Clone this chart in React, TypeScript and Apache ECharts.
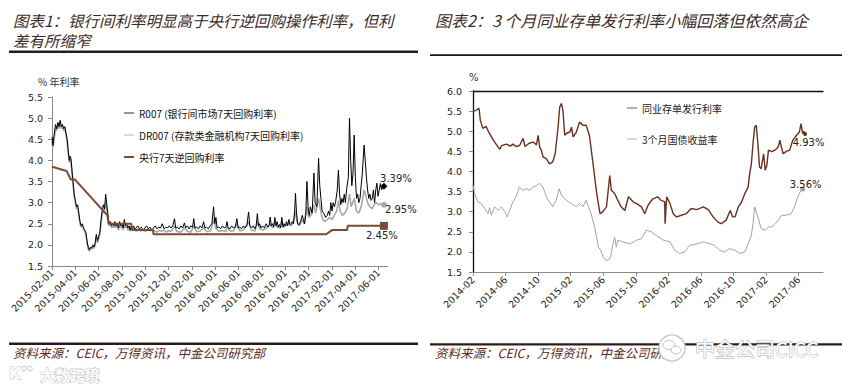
import React, { useEffect, useRef } from "react";
import * as echarts from "echarts";

// ---------------- Left chart (x = months since 2015-02-01) ----------------
const leftTickLabels = [
  "2015-02-01", "2015-04-01", "2015-06-01", "2015-08-01", "2015-10-01",
  "2015-12-01", "2016-02-01", "2016-04-01", "2016-06-01", "2016-08-01",
  "2016-10-01", "2016-12-01", "2017-02-01", "2017-04-01", "2017-06-01",
];
const leftNames = [
  "R007 (银行间市场7天回购利率)",
  "DR007 (存款类金融机构7天回购利率)",
  "央行7天逆回购利率",
];

const r007: [number, number][] = [
  [0, 4.55], [0.08, 4.35], [0.18, 4.6], [0.3, 4.85], [0.4, 4.75], [0.5, 4.9], [0.6, 4.8], [0.7, 4.95],
  [0.8, 4.8], [0.9, 4.85], [1.0, 4.75], [1.1, 4.8], [1.2, 4.65], [1.3, 4.5], [1.4, 4.2], [1.48, 4.0],
  [1.55, 4.1], [1.62, 4.05], [1.7, 3.8], [1.8, 3.5], [1.9, 3.2], [2.0, 3.05], [2.1, 2.9], [2.2, 2.95],
  [2.3, 2.75], [2.4, 2.55], [2.5, 2.45], [2.6, 2.5], [2.7, 2.4], [2.8, 2.35], [2.9, 2.3], [3.0, 2.1],
  [3.1, 1.95], [3.2, 1.88], [3.3, 1.95], [3.4, 1.92], [3.5, 2.0], [3.6, 1.95], [3.7, 2.05], [3.8, 2.25],
  [3.9, 2.1], [4.0, 2.2], [4.1, 2.3], [4.2, 2.6], [4.3, 2.8], [4.4, 2.95], [4.5, 2.85], [4.6, 3.2],
  [4.7, 2.95], [4.8, 2.7], [4.9, 2.5], [5.0, 2.55], [5.1, 2.45], [5.2, 2.5], [5.3, 2.45], [5.4, 2.55],
  [5.5, 2.45], [5.6, 2.5], [5.7, 2.4], [5.8, 2.55], [5.9, 2.45], [6.0, 2.5], [6.1, 2.4], [6.2, 2.6],
  [6.3, 2.45], [6.4, 2.5], [6.5, 2.4], [6.6, 2.45], [6.7, 2.35], [6.8, 2.45], [6.9, 2.4], [7.0, 2.45],
  [7.1, 2.35], [7.2, 2.4], [7.35, 2.45], [7.5, 2.38], [7.65, 2.42], [7.8, 2.35], [7.95, 2.4], [8.1, 2.45],
  [8.25, 2.38], [8.4, 2.42], [8.55, 2.35], [8.7, 2.4], [8.85, 2.45], [9.0, 2.38], [9.15, 2.42], [9.3, 2.4],
  [9.45, 2.5], [9.6, 2.38], [9.75, 2.42], [9.9, 2.4], [10.05, 2.45], [10.2, 2.4], [10.35, 2.45], [10.5, 2.62],
  [10.6, 2.4], [10.75, 2.42], [10.9, 2.38], [11.05, 2.45], [11.2, 2.4], [11.35, 2.52], [11.45, 2.4], [11.6, 2.45],
  [11.75, 2.38], [11.9, 2.45], [12.05, 2.42], [12.15, 2.62], [12.25, 2.4], [12.4, 2.42], [12.55, 2.38], [12.7, 2.45],
  [12.85, 2.4], [13.0, 2.55], [13.1, 2.4], [13.25, 2.42], [13.4, 2.38], [13.55, 2.45], [13.7, 2.5], [13.85, 2.9],
  [13.95, 2.5], [14.05, 2.65], [14.15, 2.4], [14.3, 2.42], [14.45, 2.38], [14.6, 2.45], [14.75, 2.4], [14.9, 2.42],
  [15.0, 2.55], [15.1, 2.4], [15.25, 2.38], [15.4, 2.45], [15.55, 2.4], [15.7, 2.42], [15.85, 2.62], [15.95, 2.4],
  [16.1, 2.42], [16.25, 2.38], [16.4, 2.45], [16.55, 2.4], [16.7, 2.45], [16.85, 2.78], [16.95, 2.45], [17.1, 2.4],
  [17.25, 2.45], [17.4, 2.38], [17.5, 2.45], [17.6, 2.74], [17.7, 2.45], [17.8, 2.5], [17.9, 2.4], [18.05, 2.45],
  [18.2, 2.4], [18.35, 2.5], [18.5, 2.42], [18.6, 2.45], [18.7, 2.66], [18.8, 2.45], [18.9, 2.5], [19.0, 2.42],
  [19.1, 2.65], [19.2, 2.45], [19.3, 2.55], [19.4, 2.42], [19.5, 2.48], [19.6, 2.4], [19.7, 2.65], [19.8, 2.42],
  [19.9, 2.5], [20.0, 2.45], [20.1, 2.55], [20.2, 2.45], [20.3, 2.6], [20.4, 2.48], [20.5, 2.5], [20.6, 2.55],
  [20.7, 2.5], [20.8, 2.8], [20.87, 3.22], [20.95, 2.8], [21.05, 2.5], [21.15, 2.47], [21.3, 2.55], [21.45, 2.7],
  [21.55, 2.6], [21.65, 2.5], [21.75, 2.7], [21.85, 3.5], [21.95, 2.9], [22.05, 2.7], [22.15, 2.9], [22.3, 2.75],
  [22.45, 3.7], [22.55, 3.0], [22.7, 2.9], [22.85, 4.05], [22.95, 3.4], [23.05, 3.1], [23.15, 2.8], [23.3, 2.75],
  [23.45, 2.65], [23.6, 2.7], [23.7, 2.8], [23.8, 2.7], [23.9, 3.0], [24.0, 2.8], [24.1, 3.0], [24.2, 2.9],
  [24.3, 3.0], [24.45, 3.3], [24.55, 3.77], [24.65, 3.2], [24.75, 2.95], [24.85, 3.1], [24.95, 3.0], [25.05, 3.2],
  [25.15, 3.0], [25.25, 3.3], [25.4, 3.6], [25.5, 5.0], [25.6, 4.0], [25.7, 3.4], [25.8, 3.7], [25.9, 4.6],
  [26.0, 3.6], [26.1, 3.1], [26.2, 3.2], [26.3, 3.0], [26.4, 3.1], [26.5, 3.4], [26.6, 3.7], [26.75, 4.36],
  [26.85, 4.0], [26.95, 3.6], [27.05, 3.3], [27.15, 3.1], [27.25, 3.2], [27.35, 3.05], [27.45, 3.1], [27.55, 3.3],
  [27.65, 3.0], [27.75, 3.3], [27.85, 3.46], [27.95, 3.15], [28.05, 3.3], [28.15, 3.45], [28.25, 3.3], [28.35, 3.42],
  [28.45, 3.39],
];

const dr007: [number, number][] = [
  [0, 4.45], [0.08, 4.3], [0.18, 4.5], [0.3, 4.75], [0.4, 4.7], [0.5, 4.85], [0.6, 4.75], [0.7, 4.9],
  [0.8, 4.75], [0.9, 4.8], [1.0, 4.7], [1.1, 4.75], [1.2, 4.6], [1.3, 4.45], [1.4, 4.15], [1.48, 3.95],
  [1.55, 4.05], [1.62, 4.0], [1.7, 3.75], [1.8, 3.45], [1.9, 3.15], [2.0, 3.0], [2.1, 2.85], [2.2, 2.9],
  [2.3, 2.7], [2.4, 2.5], [2.5, 2.42], [2.6, 2.45], [2.7, 2.38], [2.8, 2.32], [2.9, 2.25], [3.0, 2.05],
  [3.1, 1.9], [3.2, 1.85], [3.3, 1.92], [3.4, 1.9], [3.5, 1.95], [3.6, 1.92], [3.7, 2.0], [3.8, 2.2],
  [3.9, 2.05], [4.0, 2.15], [4.1, 2.25], [4.2, 2.5], [4.3, 2.7], [4.4, 2.85], [4.5, 2.8], [4.6, 3.0],
  [4.7, 2.85], [4.8, 2.6], [4.9, 2.45], [5.0, 2.5], [5.1, 2.4], [5.2, 2.45], [5.3, 2.4], [5.4, 2.5],
  [5.5, 2.4], [5.6, 2.45], [5.7, 2.35], [5.8, 2.45], [5.9, 2.4], [6.0, 2.45], [6.1, 2.35], [6.2, 2.5],
  [6.3, 2.4], [6.4, 2.45], [6.5, 2.35], [6.6, 2.4], [6.7, 2.32], [6.8, 2.4], [6.9, 2.35], [7.0, 2.4],
  [7.2, 2.32], [7.4, 2.38], [7.6, 2.33], [7.8, 2.36], [8.0, 2.32], [8.2, 2.37], [8.4, 2.33], [8.6, 2.36],
  [8.8, 2.33], [9.0, 2.3], [9.2, 2.35], [9.4, 2.32], [9.6, 2.35], [9.8, 2.3], [10.0, 2.34], [10.2, 2.31],
  [10.5, 2.45], [10.7, 2.32], [11.0, 2.3], [11.35, 2.4], [11.6, 2.32], [11.9, 2.3], [12.15, 2.45], [12.4, 2.31],
  [12.7, 2.33], [13.0, 2.4], [13.3, 2.31], [13.6, 2.34], [13.85, 2.6], [14.05, 2.4], [14.3, 2.32], [14.6, 2.34],
  [14.9, 2.31], [15.0, 2.42], [15.3, 2.32], [15.6, 2.34], [15.85, 2.5], [16.1, 2.33], [16.4, 2.35], [16.85, 2.55],
  [17.1, 2.35], [17.4, 2.33], [17.6, 2.55], [17.8, 2.38], [18.1, 2.35], [18.4, 2.4], [18.7, 2.5], [18.9, 2.4],
  [19.1, 2.52], [19.3, 2.42], [19.5, 2.4], [19.7, 2.55], [19.9, 2.42], [20.1, 2.48], [20.3, 2.5], [20.5, 2.45],
  [20.7, 2.55], [20.87, 2.8], [21.0, 2.55], [21.2, 2.45], [21.45, 2.6], [21.6, 2.5], [21.85, 2.9], [22.0, 2.65],
  [22.2, 2.7], [22.45, 2.95], [22.6, 2.75], [22.85, 3.1], [23.0, 2.85], [23.2, 2.6], [23.4, 2.55], [23.6, 2.6],
  [23.8, 2.65], [24.0, 2.6], [24.2, 2.7], [24.4, 2.8], [24.55, 3.05], [24.7, 2.8], [24.9, 2.7], [25.1, 2.75],
  [25.3, 2.85], [25.5, 3.2], [25.65, 2.9], [25.9, 3.1], [26.1, 2.8], [26.3, 2.75], [26.5, 2.9], [26.75, 3.3],
  [26.9, 3.15], [27.05, 3.0], [27.25, 2.9], [27.45, 2.85], [27.6, 2.95], [27.8, 3.0], [28.0, 2.95], [28.2, 2.98],
  [28.45, 2.95],
];

const reverseRepo: [number, number][] = [
  [0, 3.85], [1.25, 3.75], [1.6, 3.55], [1.95, 3.55], [4.75, 2.7], [4.85, 2.5], [6.8, 2.5], [6.85, 2.35],
  [8.65, 2.35], [8.7, 2.25], [23.5, 2.25], [24.0, 2.35], [25.3, 2.35], [25.35, 2.45], [28.45, 2.45],
];

// ---------------- Right chart (x = months since 2014-02) ----------------
const rightTickLabels = [
  "2014-02", "2014-06", "2014-10", "2015-02", "2015-06", "2015-10",
  "2016-02", "2016-06", "2016-10", "2017-02", "2017-06",
];
const rightNames = ["同业存单发行利率", "3个月国债收益率"];

const ncd3m: [number, number][] = [
  [0, 5.5], [0.4, 5.52], [0.74, 5.57], [0.9, 5.27], [1.2, 5.07], [1.6, 5.12], [2.0, 4.95], [2.66, 4.73],
  [3.07, 4.61], [3.3, 4.55], [3.5, 4.64], [4.1, 4.68], [4.6, 4.63], [4.9, 4.68], [5.3, 4.62], [5.74, 4.65],
  [6.15, 4.82], [6.4, 4.62], [6.9, 4.7], [7.4, 4.73], [7.8, 4.66], [8.0, 4.9], [8.2, 4.6], [8.4, 4.53],
  [8.6, 4.36], [9.0, 4.32], [9.4, 4.19], [9.8, 4.24], [10.1, 4.44], [10.45, 5.1], [10.65, 5.6], [10.86, 5.69],
  [11.05, 5.52], [11.27, 4.9], [11.5, 4.95], [11.9, 4.98], [12.1, 5.1], [12.3, 4.86], [12.7, 4.98], [13.1, 5.23],
  [13.5, 5.15], [13.9, 5.15], [14.3, 4.9], [14.75, 4.19], [15.2, 3.45], [15.6, 2.95], [15.9, 2.99], [16.4, 3.12],
  [16.8, 3.9], [17.0, 3.53], [17.4, 3.45], [17.8, 3.28], [18.2, 3.12], [18.65, 3.03], [19.1, 3.37], [19.7, 3.24],
  [20.1, 3.2], [20.7, 3.12], [21.1, 2.95], [21.5, 3.16], [22.1, 3.32], [22.7, 3.37], [23.1, 3.28], [23.55, 3.25],
  [23.6, 2.7], [23.8, 3.37], [24.2, 3.2], [24.6, 2.95], [25.0, 2.87], [25.6, 2.91], [26.2, 2.95], [26.8, 3.08],
  [27.5, 3.05], [28.3, 3.12], [28.9, 3.05], [29.5, 2.87], [30.1, 2.74], [30.5, 2.7], [31.1, 2.79], [31.6, 3.03],
  [31.9, 2.87], [32.2, 2.87], [32.6, 3.12], [33.0, 3.24], [33.4, 3.45], [33.8, 3.61], [34.0, 3.95], [34.2, 4.19],
  [34.4, 4.69], [34.6, 5.1], [34.8, 5.15], [35.0, 4.69], [35.2, 4.11], [35.4, 4.07], [35.7, 4.44], [35.9, 4.03],
  [36.1, 4.15], [36.3, 4.53], [36.7, 4.49], [37.1, 4.53], [37.5, 4.61], [37.7, 4.78], [37.9, 4.6], [38.1, 4.44],
  [38.5, 4.5], [38.9, 4.53], [39.3, 4.78], [39.75, 4.9], [40.1, 4.98], [40.3, 5.19], [40.5, 4.94], [40.65, 5.0],
  [40.8, 4.93],
];

const tbill3m: [number, number][] = [
  [0, 3.66], [0.2, 3.45], [0.6, 3.24], [1.0, 3.2], [1.43, 3.08], [1.84, 2.95], [2.05, 3.1], [2.25, 2.91],
  [2.66, 3.12], [3.07, 3.03], [3.5, 3.12], [3.9, 3.0], [4.2, 2.87], [4.5, 3.03], [4.9, 3.24], [5.3, 3.37],
  [5.7, 3.61], [6.15, 3.53], [6.56, 3.57], [6.97, 3.53], [7.4, 3.61], [7.8, 3.65], [8.2, 3.7], [8.6, 3.61],
  [9.0, 3.37], [9.4, 3.24], [9.8, 3.12], [10.2, 3.28], [10.6, 3.57], [10.86, 3.41], [11.27, 3.32], [11.7, 3.24],
  [12.1, 3.2], [12.7, 3.12], [13.1, 3.2], [13.5, 3.12], [13.9, 3.28], [14.2, 3.12], [14.5, 2.95], [14.95, 2.62],
  [15.4, 2.12], [15.7, 2.04], [16.0, 1.87], [16.3, 1.8], [16.6, 1.79], [16.9, 1.87], [17.2, 2.2], [17.4, 2.37],
  [17.6, 2.12], [17.8, 2.29], [18.4, 2.25], [19.3, 2.2], [20.1, 2.29], [20.7, 2.33], [21.3, 2.54], [21.9, 2.5],
  [22.5, 2.41], [23.4, 2.29], [24.2, 2.25], [24.8, 2.04], [25.4, 1.96], [26.0, 2.0], [26.6, 2.16], [27.5, 2.2],
  [28.3, 2.25], [29.1, 2.2], [29.7, 2.16], [30.3, 2.04], [30.9, 2.0], [31.5, 2.08], [32.2, 2.04], [32.8, 1.96],
  [33.4, 2.0], [33.8, 2.2], [34.2, 2.41], [34.4, 2.7], [34.6, 3.12], [35.0, 2.87], [35.4, 2.58], [35.9, 2.54],
  [36.3, 2.62], [36.7, 2.62], [37.1, 2.7], [37.5, 2.78], [37.9, 2.91], [38.5, 2.91], [39.1, 2.95], [39.5, 3.12],
  [39.9, 3.37], [40.3, 3.53], [40.5, 3.56],
];

// ---------------- Texts ----------------
const leftTitle1 = "图表1：银行间利率明显高于央行逆回购操作利率，但利";
const leftTitle2 = "差有所缩窄";
const rightTitle = "图表2：3 个月同业存单发行利率小幅回落但依然高企";
const leftSource = "资料来源：CEIC，万得资讯，中金公司研究部";
const rightSource = "资料来源：CEIC，万得资讯，中金公司研究";
const leftUnit = "% 年利率";
const rightUnit = "%";

const AXIS_GRAY = "#8a8a8a";
const TICK_FONT = "DejaVu Sans";
const CJK = "Noto Sans CJK SC";
const THIN_ICON = "path://M0 0H12V1H0Z";
const THICK_ICON = "path://M0 0H12V2.4H0Z";

const last = (a: [number, number][]) => a[a.length - 1];

function endMark(
  pts: [number, number][],
  symbol: string,
  size: number,
  color: string,
  position: string,
  offset: [number, number]
) {
  return {
    symbol,
    symbolSize: size,
    itemStyle: { color },
    label: {
      show: true,
      position,
      offset,
      formatter: (p: any) => `${Number(p.data.coord[1]).toFixed(2)}%`,
      fontSize: 10,
      fontFamily: TICK_FONT,
      color: "#222",
    },
    data: [{ coord: last(pts) }],
    silent: true,
  };
}

function buildOption(): any {
  const leftTickVals = leftTickLabels.map((_, i) => i * 2);
  const rightTickVals = rightTickLabels.map((_, i) => i * 4);
  const axisLabelBase = { fontSize: 9.5, fontFamily: TICK_FONT, color: "#222" };

  return {
    animation: false,
    backgroundColor: "#ffffff",
    grid: [
      { left: 52, top: 97, width: 336, height: 169 },
      { left: 473, top: 91, width: 350, height: 181 },
    ],
    legend: [
      {
        data: [
          { name: leftNames[0], icon: THIN_ICON },
          { name: leftNames[1], icon: THIN_ICON },
          { name: leftNames[2], icon: THICK_ICON },
        ],
        orient: "vertical",
        left: 119,
        top: 103,
        itemWidth: 10,
        itemHeight: 10,
        itemGap: 12,
        selectedMode: false,
        textStyle: { fontSize: 10, fontFamily: CJK, color: "#111" },
      },
      {
        data: [
          { name: rightNames[0], icon: THIN_ICON },
          { name: rightNames[1], icon: THIN_ICON },
        ],
        orient: "vertical",
        left: 622,
        top: 98,
        itemWidth: 10,
        itemHeight: 10,
        itemGap: 21,
        selectedMode: false,
        textStyle: { fontSize: 10, fontFamily: CJK, color: "#222" },
      },
    ],
    xAxis: [
      {
        gridIndex: 0,
        type: "value",
        min: 0,
        max: 28.8,
        interval: 2,
        axisLine: { show: true, lineStyle: { color: AXIS_GRAY } },
        axisTick: { show: true, length: 4, customValues: leftTickVals, lineStyle: { color: AXIS_GRAY } },
        axisLabel: {
          ...axisLabelBase,
          customValues: leftTickVals,
          rotate: 45,
          margin: 5,
          formatter: (v: number) => (v % 2 === 0 ? leftTickLabels[v / 2] ?? "" : ""),
        },
        splitLine: { show: false },
      },
      {
        gridIndex: 1,
        type: "value",
        min: 0,
        max: 43,
        interval: 4,
        axisLine: { show: true, lineStyle: { color: AXIS_GRAY } },
        axisTick: { show: true, length: 4, customValues: rightTickVals, lineStyle: { color: AXIS_GRAY } },
        axisLabel: {
          ...axisLabelBase,
          customValues: rightTickVals,
          rotate: 45,
          margin: 6,
          formatter: (v: number) => (v % 4 === 0 ? rightTickLabels[v / 4] ?? "" : ""),
        },
        splitLine: { show: false },
      },
      {
        gridIndex: 1,
        type: "value",
        position: "top",
        min: 0,
        max: 43,
        axisLine: { show: true, lineStyle: { color: "#111", width: 1.3 } },
        axisTick: { show: false },
        axisLabel: { show: false },
        splitLine: { show: false },
      },
    ],
    yAxis: [
      {
        gridIndex: 0,
        type: "value",
        min: 1.5,
        max: 5.5,
        interval: 0.5,
        axisLine: { show: true, lineStyle: { color: AXIS_GRAY } },
        axisTick: { show: true, length: 4, lineStyle: { color: AXIS_GRAY } },
        axisLabel: { ...axisLabelBase, margin: 9, formatter: (v: number) => v.toFixed(1) },
        splitLine: { show: false },
      },
      {
        gridIndex: 1,
        type: "value",
        min: 1.5,
        max: 6,
        interval: 0.5,
        axisLine: { show: true, lineStyle: { color: AXIS_GRAY } },
        axisTick: { show: true, length: 4, lineStyle: { color: AXIS_GRAY } },
        axisLabel: { ...axisLabelBase, margin: 11, formatter: (v: number) => v.toFixed(1) },
        splitLine: { show: false },
      },
      {
        gridIndex: 1,
        type: "value",
        position: "right",
        min: 1.5,
        max: 6,
        axisLine: { show: true, lineStyle: { color: "#111", width: 1.3 } },
        axisTick: { show: false },
        axisLabel: { show: false },
        splitLine: { show: false },
      },
    ],
    series: [
      {
        name: leftNames[1],
        type: "line",
        xAxisIndex: 0,
        yAxisIndex: 0,
        data: dr007,
        symbol: "none",
        color: "#a8a8a8",
        lineStyle: { color: "#a8a8a8", width: 1.6 },
        markPoint: endMark(dr007, "circle", 6, "#a8a8a8", "right", [-7, 5]),
        z: 2,
      },
      {
        name: leftNames[0],
        type: "line",
        xAxisIndex: 0,
        yAxisIndex: 0,
        data: r007,
        symbol: "none",
        color: "#000000",
        lineStyle: { color: "#000000", width: 1 },
        markPoint: endMark(r007, "diamond", 7, "#000000", "top", [12, 6]),
        z: 3,
      },
      {
        name: leftNames[2],
        type: "line",
        xAxisIndex: 0,
        yAxisIndex: 0,
        data: reverseRepo,
        symbol: "none",
        color: "#7b4b35",
        lineStyle: { color: "#7b4b35", width: 2 },
        markPoint: endMark(reverseRepo, "rect", 8, "#7b4b35", "bottom", [-2, -4]),
        z: 4,
      },
      {
        name: rightNames[0],
        type: "line",
        xAxisIndex: 1,
        yAxisIndex: 1,
        data: ncd3m,
        symbol: "none",
        color: "#6a3020",
        lineStyle: { color: "#6a3020", width: 1.4 },
        markPoint: endMark(ncd3m, "circle", 4, "#6a3020", "bottom", [3.5, -4]),
        z: 3,
      },
      {
        name: rightNames[1],
        type: "line",
        xAxisIndex: 1,
        yAxisIndex: 1,
        data: tbill3m,
        symbol: "none",
        color: "#a3a3a3",
        lineStyle: { color: "#a3a3a3", width: 1 },
        markPoint: endMark(tbill3m, "circle", 5, "#a3a3a3", "top", [3, 7.5]),
        z: 2,
      },
    ],
    graphic: [
      // titles
      { type: "text", x: 13, y: 20, style: { text: leftTitle1, fontSize: 15.5, fontStyle: "italic", fontFamily: CJK, fill: "#3b2a2a", verticalAlign: "middle" } },
      { type: "text", x: 13, y: 40, style: { text: leftTitle2, fontSize: 15.5, fontStyle: "italic", fontFamily: CJK, fill: "#3b2a2a", verticalAlign: "middle" } },
      { type: "text", x: 435, y: 20, style: { text: rightTitle, fontSize: 16, fontStyle: "italic", fontFamily: CJK, fill: "#3b2a2a", verticalAlign: "middle" } },
      // rules
      { type: "rect", shape: { x: 9, y: 50.5, width: 409, height: 2.5 }, style: { fill: "#2a1c1c" } },
      { type: "rect", shape: { x: 430, y: 54.3, width: 412, height: 1.7 }, style: { fill: "#1e1414" } },
      { type: "rect", shape: { x: 9, y: 342.5, width: 409, height: 2.5 }, style: { fill: "#2a1c1c" } },
      { type: "rect", shape: { x: 430, y: 343.3, width: 412, height: 2.2 }, style: { fill: "#2a1c1c" } },
      // units
      { type: "text", x: 38, y: 81, style: { text: leftUnit, fontSize: 10, fontFamily: CJK, fill: "#333", verticalAlign: "middle" } },
      { type: "text", x: 469, y: 77, style: { text: rightUnit, fontSize: 10, fontFamily: TICK_FONT, fill: "#333", verticalAlign: "middle" } },
      // sources
      { type: "text", x: 13, y: 352, style: { text: leftSource, fontSize: 12.5, fontStyle: "italic", fontFamily: CJK, fill: "#5a2a24", verticalAlign: "middle" } },
      { type: "text", x: 435, y: 352, style: { text: rightSource, fontSize: 12.5, fontStyle: "italic", fontFamily: CJK, fill: "#5a2a24", verticalAlign: "middle" } },
      // watermark left
      { type: "text", x: 9, y: 374, style: { text: "K", fontSize: 15, fontWeight: "bold", fontFamily: TICK_FONT, fill: "#ffffff", stroke: "#c4c4c4", lineWidth: 1, verticalAlign: "middle" } },
      { type: "circle", shape: { cx: 24, cy: 368.5, r: 2.3 }, style: { fill: "#fff", stroke: "#c4c4c4", lineWidth: 1 } },
      { type: "circle", shape: { cx: 30, cy: 368.5, r: 2.3 }, style: { fill: "#fff", stroke: "#c4c4c4", lineWidth: 1 } },
      { type: "text", x: 40, y: 374, style: { text: "大数跨境", fontSize: 15, fontWeight: "bold", fontFamily: CJK, fill: "#ffffff", stroke: "#bdbdbd", lineWidth: 1, verticalAlign: "middle" } },
      // watermark right
      { type: "circle", shape: { cx: 672, cy: 348, r: 13 }, style: { fill: "#fff", stroke: "#cccccc", lineWidth: 1.5 } },
      { type: "ellipse", shape: { cx: 669, cy: 345, rx: 6, ry: 4.5 }, style: { fill: "#fff", stroke: "#c4c4c4", lineWidth: 1 } },
      { type: "ellipse", shape: { cx: 676, cy: 350, rx: 5, ry: 4 }, style: { fill: "#fff", stroke: "#c4c4c4", lineWidth: 1 } },
      { type: "text", x: 695, y: 348, style: { text: "中金公司CICC", fontSize: 20, fontFamily: CJK, fill: "#ffffff", stroke: "#a9a9a9", lineWidth: 1, verticalAlign: "middle" } },
    ],
  };
}

export default function App() {
  const ref = useRef<HTMLDivElement>(null);
  useEffect(() => {
    if (!ref.current) return;
    const chart = echarts.init(ref.current, null, { renderer: "svg" });
    chart.setOption(buildOption());
    return () => chart.dispose();
  }, []);
  return (
    <div
      ref={ref}
      style={{ position: "absolute", left: 0, top: 0, width: 851, height: 385, background: "#fff" }}
    />
  );
}
